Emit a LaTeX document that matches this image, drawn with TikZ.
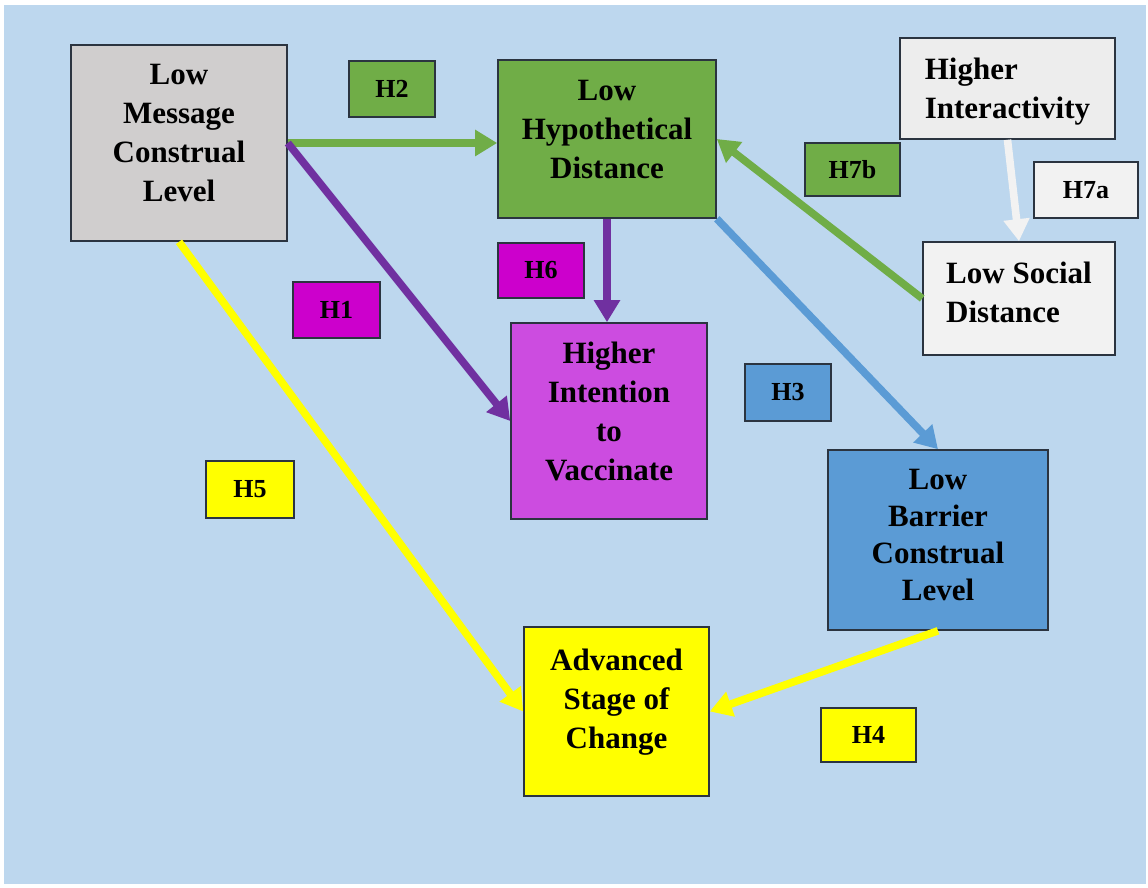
\documentclass[tikz,border=0pt]{standalone}
\usepackage{fontspec}
\setmainfont{Liberation Serif}
\usepackage{tikz}
\usetikzlibrary{positioning}
\usetikzlibrary{arrows.meta}

\definecolor{bgblue}{HTML}{BDD7EE}
\definecolor{boxline}{HTML}{2B3440}
\definecolor{msggray}{HTML}{D0CECE}
\definecolor{hypgreen}{HTML}{70AD47}
\definecolor{lightgray}{HTML}{EDEDED}
\definecolor{paleGray}{HTML}{F2F2F2}
\definecolor{hmagenta}{HTML}{CC00CC}
\definecolor{vacorchid}{HTML}{CC4CE0}
\definecolor{linkpurple}{HTML}{7030A0}
\definecolor{barblue}{HTML}{5B9BD5}
\definecolor{advyellow}{HTML}{FFFF00}

\begin{document}
\begin{tikzpicture}[x=0.5pt, y=-0.5pt,
    box/.style={draw=boxline, line width=0.8pt, rectangle, align=center, text depth=10pt,
        font=\fontsize{15.5}{19.5}\selectfont\bfseries},
    hbox/.style={draw=boxline, line width=0.8pt, rectangle,
        font=\fontsize{13}{15}\selectfont\bfseries},
    link/.style={line width=3.8pt, -{Triangle[length=11pt, width=12.5pt]}}]

    % Fondo
    \useasboundingbox (0,0) rectangle (1148,888);
    \fill[white] (0,0) rectangle (1148,888);
    \fill[bgblue] (4,5) rectangle (1146,884);

    % Cajas principales
    \node (msg) at (179,143) [box, fill=msggray, minimum width=108pt, minimum height=98pt]
    {Low\\ Message\\ Construal\\ Level};
    \node (hyp) at (607,139) [box, fill=hypgreen, minimum width=109pt, minimum height=79pt]
    {Low\\ Hypothetical\\ Distance};
    \node (inter) at (1007.5,88.5) [box, align=left, text depth=0pt, fill=lightgray, minimum width=107.5pt, minimum height=50.5pt]
    {Higher\\ Interactivity};
    \node (social) at (1019,298.5) [box, align=left, text depth=6pt, fill=paleGray, minimum width=96pt, minimum height=56.5pt]
    {Low Social\\ Distance};
    \node (vac) at (609,421) [box, fill=vacorchid, minimum width=98pt, minimum height=98pt]
    {Higher\\ Intention\\ to\\ Vaccinate};
    \node (barrier) at (938,540) [box, text depth=5pt, font=\fontsize{15.5}{18.5}\selectfont\bfseries,
        fill=barblue, minimum width=110pt, minimum height=90pt]
    {Low\\ Barrier\\ Construal\\ Level};
    \node (adv) at (616.5,711.5) [box, text depth=13pt, fill=advyellow, minimum width=92.5pt, minimum height=84.5pt]
    {Advanced\\ Stage of\\ Change};

    % Etiquetas de hipotesis
    \node (h1) at (336.5,310) [hbox, fill=hmagenta, minimum width=43.5pt, minimum height=28pt] {H1};
    \node (h2) at (392,89) [hbox, fill=hypgreen, minimum width=43pt, minimum height=28pt] {H2};
    \node (h3) at (788,392.5) [hbox, fill=barblue, minimum width=43pt, minimum height=28.5pt] {H3};
    \node (h4) at (868.5,735) [hbox, fill=advyellow, minimum width=47.5pt, minimum height=27pt] {H4};
    \node (h5) at (250,489.5) [hbox, fill=advyellow, minimum width=44pt, minimum height=28.5pt] {H5};
    \node (h6) at (541,270.5) [hbox, fill=hmagenta, minimum width=43pt, minimum height=27.5pt] {H6};
    \node (h7a) at (1086,190) [hbox, fill=paleGray, minimum width=52pt, minimum height=28pt] {H7a};
    \node (h7b) at (852.5,169.5) [hbox, fill=hypgreen, minimum width=47.5pt, minimum height=26.5pt] {H7b};

    % Flechas
    \draw[link, hypgreen] (msg.east) -- (msg.east -| hyp.west);
    \draw[link, linkpurple] (msg.east) -- (vac.west);
    \draw[link, linkpurple] (hyp.south) -- (hyp.south |- vac.north);
    \draw[link, barblue] (hyp.south east) -- (barrier.north);
    \draw[link, paleGray] (inter.south) -- (social.north);
    \draw[link, hypgreen] (social.west) -- (hyp.east);
    \draw[link, advyellow] (msg.south) -- (adv.west);
    \draw[link, advyellow] (barrier.south) -- (adv.east);
\end{tikzpicture}
\end{document}
